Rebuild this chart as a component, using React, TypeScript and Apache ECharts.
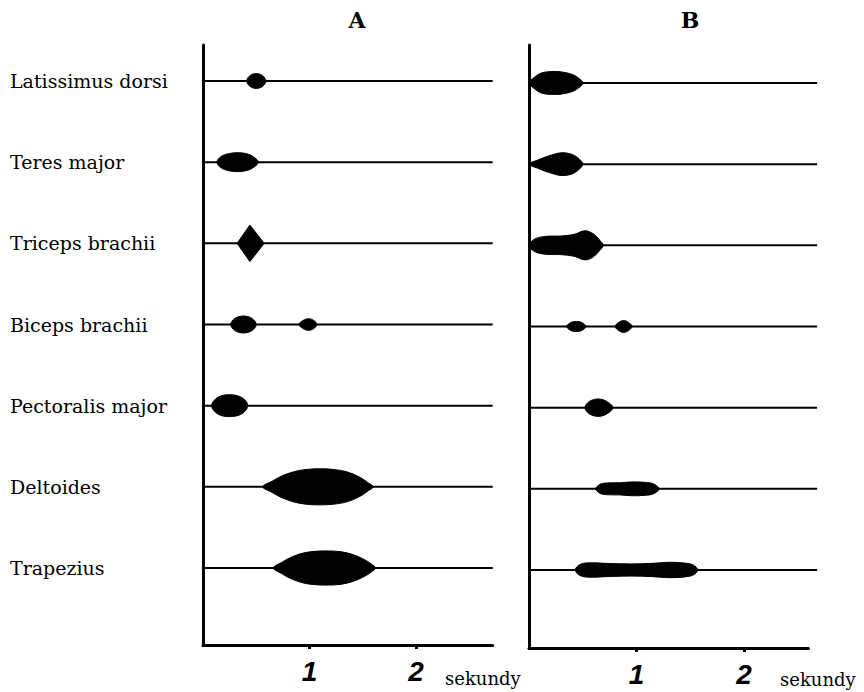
import React, { useEffect, useRef } from "react";
import * as echarts from "echarts";

// ---- data ----
const muscles = [
  "Latissimus dorsi",
  "Teres major",
  "Triceps brachii",
  "Biceps brachii",
  "Pectoralis major",
  "Deltoides",
  "Trapezius",
];
const panelTitles = ["A", "B"];
const timeTicks = [1, 2];
const unitLabel = "sekundy";
const traceEnd = [2.72, 2.68]; // seconds, end of each baseline trace

// EMG bursts: row index, envelope as [time s, half-amplitude (row units)]
const burstsA = [
  { row: 0, kind: "oval", pts: [[0.41, 0], [0.44, 0.065], [0.5, 0.092], [0.56, 0.065], [0.59, 0]] },
  { row: 1, kind: "oval", pts: [[0.13, 0], [0.17, 0.07], [0.24, 0.105], [0.33, 0.117], [0.42, 0.1], [0.48, 0.06], [0.52, 0]] },
  { row: 2, kind: "diamond", pts: [[0.32, 0], [0.44, 0.225], [0.575, 0]] },
  { row: 3, kind: "oval", pts: [[0.26, 0], [0.3, 0.075], [0.38, 0.105], [0.46, 0.075], [0.5, 0]] },
  { row: 3, kind: "oval", pts: [[0.9, 0], [0.94, 0.05], [0.99, 0.072], [1.04, 0.05], [1.07, 0]] },
  { row: 4, kind: "oval", pts: [[0.08, 0], [0.12, 0.085], [0.18, 0.125], [0.25, 0.135], [0.33, 0.12], [0.39, 0.075], [0.42, 0]] },
  { row: 5, kind: "oval", pts: [[0.56, 0], [0.65, 0.07], [0.75, 0.14], [0.88, 0.195], [1.0, 0.218], [1.1, 0.222], [1.22, 0.215], [1.35, 0.185], [1.47, 0.12], [1.55, 0.05], [1.6, 0]] },
  { row: 6, kind: "oval", pts: [[0.66, 0], [0.74, 0.07], [0.84, 0.14], [0.96, 0.19], [1.08, 0.208], [1.18, 0.21], [1.3, 0.2], [1.42, 0.16], [1.52, 0.1], [1.58, 0.05], [1.62, 0]] },
];
const burstsB = [
  { row: 0, kind: "oval", pts: [[0.0, 0], [0.05, 0.07], [0.12, 0.125], [0.24, 0.142], [0.35, 0.125], [0.44, 0.08], [0.5, 0]] },
  { row: 1, kind: "oval", pts: [[0.0, 0], [0.08, 0.05], [0.18, 0.1], [0.3, 0.14], [0.4, 0.12], [0.47, 0.06], [0.5, 0]] },
  { row: 2, kind: "oval", pts: [[0.0, 0], [0.05, 0.075], [0.15, 0.11], [0.3, 0.115], [0.42, 0.135], [0.52, 0.18], [0.6, 0.14], [0.66, 0.06], [0.69, 0]] },
  { row: 3, kind: "oval", pts: [[0.35, 0], [0.39, 0.05], [0.44, 0.062], [0.49, 0.05], [0.53, 0]] },
  { row: 3, kind: "oval", pts: [[0.8, 0], [0.84, 0.055], [0.88, 0.074], [0.92, 0.055], [0.96, 0]] },
  { row: 4, kind: "oval", pts: [[0.52, 0], [0.56, 0.075], [0.64, 0.107], [0.72, 0.08], [0.78, 0]] },
  { row: 5, kind: "oval", pts: [[0.62, 0], [0.66, 0.055], [0.72, 0.072], [0.85, 0.075], [0.95, 0.085], [1.08, 0.08], [1.16, 0.06], [1.21, 0]] },
  { row: 6, kind: "oval", pts: [[0.43, 0], [0.47, 0.065], [0.55, 0.088], [0.75, 0.08], [0.95, 0.075], [1.15, 0.082], [1.3, 0.095], [1.45, 0.085], [1.53, 0.06], [1.57, 0]] },
];

const SERIF = "DejaVu Serif";

function baselineSeries(idx: number) {
  return {
    type: "custom",
    xAxisIndex: idx,
    yAxisIndex: idx,
    clip: false,
    silent: true,
    data: muscles.map((_, i) => [0, i, traceEnd[idx]]),
    renderItem: (_p: any, api: any) => {
      const a = api.coord([api.value(0), api.value(1)]);
      const b = api.coord([api.value(2), api.value(1)]);
      return {
        type: "line",
        shape: { x1: a[0], y1: a[1], x2: b[0], y2: b[1] },
        style: { stroke: "#000", lineWidth: 2 },
      };
    },
  };
}

function burstSeries(bursts: any[], idx: number) {
  return {
    type: "custom",
    xAxisIndex: idx,
    yAxisIndex: idx,
    clip: false,
    silent: true,
    data: bursts.map((b) => [b.pts[0][0], b.row]),
    renderItem: (params: any, api: any) => {
      const b = bursts[params.dataIndex];
      const upper = b.pts.map(([t, a]: number[]) => api.coord([t, b.row - a]));
      const lower = b.pts
        .slice(1, -1)
        .reverse()
        .map(([t, a]: number[]) => api.coord([t, b.row + a]));
      return {
        type: "polygon",
        shape: { points: [...upper, ...lower], smooth: b.kind === "diamond" ? 0 : 0.35 },
        style: { fill: "#000", stroke: "#000", lineWidth: 1 },
      };
    },
  };
}

export default function App() {
  const ref = useRef<HTMLDivElement>(null);
  useEffect(() => {
    if (!ref.current) return;
    const chart = echarts.init(ref.current, null, { renderer: "svg" });
    const axisLine = { show: true, onZero: false, lineStyle: { color: "#000", width: 3 } };
    const xAxisCommon = (gridIndex: number, max: number) => ({
      type: "value",
      gridIndex,
      position: "bottom",
      min: 0,
      max,
      axisLine,
      axisTick: { show: true, customValues: timeTicks, length: 4, inside: false, lineStyle: { color: "#000", width: 3 } },
      axisLabel: {
        show: true,
        customValues: timeTicks,
        formatter: (v: number) => String(v),
        fontFamily: "Liberation Sans",
        fontStyle: "italic",
        fontWeight: "bold",
        fontSize: 28,
        lineHeight: 28,
        color: "#000",
        margin: 12,
      },
      splitLine: { show: false },
    });
    const textStyle = (size: number, weight: string) => ({
      fontFamily: SERIF,
      fontSize: size,
      fontWeight: weight,
      fill: "#000",
      verticalAlign: "middle",
    });
    chart.setOption({
      animation: false,
      backgroundColor: "#fff",
      grid: [
        { left: 203, top: 45, width: 2.72 * 106.5, height: 600 },
        { left: 529, top: 45, width: 2.6 * 107.5, height: 603 },
      ],
      xAxis: [xAxisCommon(0, 2.72), xAxisCommon(1, 2.6)],
      yAxis: [
        {
          type: "value",
          gridIndex: 0,
          position: "left",
          inverse: true,
          min: -0.4435,
          max: 6.9486,
          axisLine,
          axisTick: { show: false },
          splitLine: { show: false },
          axisLabel: {
            show: true,
            customValues: muscles.map((_, i) => i),
            formatter: (v: number) => muscles[Math.round(v)] ?? "",
            align: "left",
            margin: 193,
            fontFamily: SERIF,
            fontSize: 19,
            color: "#000",
            padding: [0, 0, 6, 0],
          },
        },
        {
          type: "value",
          gridIndex: 1,
          position: "left",
          inverse: true,
          min: -0.468,
          max: 6.961,
          axisLine,
          axisTick: { show: false },
          splitLine: { show: false },
          axisLabel: { show: false },
        },
      ],
      graphic: [
        { type: "text", x: 357, y: 20, style: { text: panelTitles[0], ...textStyle(22, "bold"), align: "center" } },
        { type: "text", x: 690, y: 20, style: { text: panelTitles[1], ...textStyle(22, "bold"), align: "center" } },
        { type: "text", x: 445, y: 678, style: { text: unitLabel, ...textStyle(18, "normal"), align: "left" } },
        { type: "text", x: 780, y: 679, style: { text: unitLabel, ...textStyle(18, "normal"), align: "left" } },
      ],
      series: [baselineSeries(0), baselineSeries(1), burstSeries(burstsA, 0), burstSeries(burstsB, 1)],
    });
    return () => chart.dispose();
  }, []);
  return <div ref={ref} style={{ position: "fixed", left: 0, top: 0, width: 864, height: 692 }} />;
}
